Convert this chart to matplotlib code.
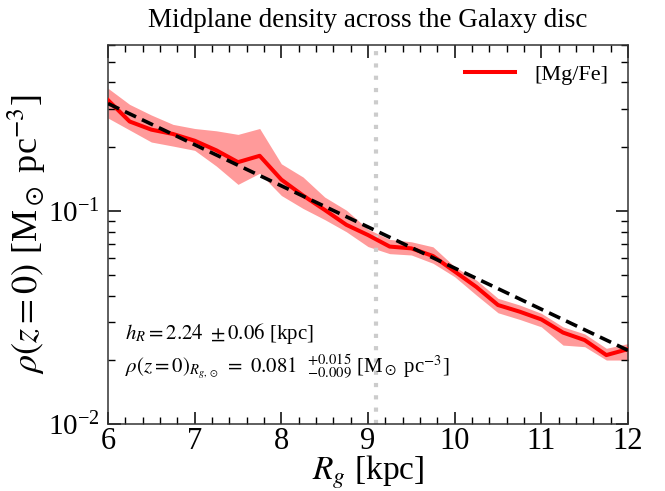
import numpy as np
import matplotlib
matplotlib.use("Agg")
import matplotlib.pyplot as plt
from matplotlib.ticker import LogLocator, MultipleLocator, NullFormatter

plt.rcParams['font.family'] = ['Liberation Serif', 'DejaVu Serif']
plt.rcParams['mathtext.fontset'] = 'stix'

# ---- data ----
R_g = [6.0, 6.25, 6.5, 6.75, 7.0, 7.25, 7.5, 7.75, 8.0, 8.25, 8.5, 8.75, 9.0,
       9.25, 9.5, 9.75, 10.0, 10.25, 10.5, 10.75, 11.0, 11.25, 11.5, 11.75, 12.0]
rho_mgfe = [0.330, 0.262, 0.240, 0.229, 0.213, 0.192, 0.169, 0.181, 0.140, 0.118,
            0.101, 0.086, 0.077, 0.068, 0.0667, 0.0614, 0.052, 0.044, 0.0362,
            0.0337, 0.031, 0.0269, 0.0248, 0.0211, 0.0225]
rho_upper = [0.375, 0.315, 0.281, 0.254, 0.243, 0.237, 0.228, 0.243, 0.166, 0.144,
             0.116, 0.1007, 0.082, 0.0735, 0.0716, 0.0678, 0.0547, 0.0474, 0.0389,
             0.0362, 0.0331, 0.0286, 0.0265, 0.0227, 0.0239]
rho_lower = [0.272, 0.239, 0.210, 0.201, 0.192, 0.162, 0.133, 0.150, 0.118, 0.1026,
             0.091, 0.0798, 0.068, 0.063, 0.0621, 0.0568, 0.0491, 0.0403, 0.0333,
             0.031, 0.0286, 0.0235, 0.0231, 0.0200, 0.0200]
fit_R = [6.0, 12.0]
fit_rho = [0.318, 0.0222]
R_sun_g = 9.09

fig = plt.figure(figsize=(6.65, 4.91), dpi=100)
ax = fig.add_axes([0.1624, 0.1358, 0.7820, 0.7732])

ax.fill_between(R_g, rho_lower, rho_upper, color='#ff9a9a', lw=0, zorder=1)
ax.plot(R_g, rho_mgfe, color='red', lw=2.9, label='[Mg/Fe]', zorder=3)
ax.plot(fit_R, fit_rho, color='black', lw=2.6, ls=(0, (3.4, 1.8)), zorder=4)
ax.axvline(R_sun_g, color='#cccccc', lw=3, ls=(0, (1, 1.95)), zorder=2)

ax.set_yscale('log')
ax.set_xlim(6, 12)
ax.set_ylim(1e-2, 0.6)
ax.xaxis.set_major_locator(MultipleLocator(1))
ax.xaxis.set_minor_locator(MultipleLocator(0.2))
ax.yaxis.set_major_locator(LogLocator(base=10))
ax.yaxis.set_minor_locator(LogLocator(base=10, subs=np.arange(2, 10)))
ax.yaxis.set_minor_formatter(NullFormatter())

ax.tick_params(which='both', direction='in', top=True, right=True)
ax.tick_params(which='major', length=9, width=1.1)
ax.tick_params(which='minor', length=5, width=1.0)
ax.tick_params(axis='x', which='major', pad=2, labelsize=22)
ax.tick_params(axis='y', which='major', pad=6, labelsize=21)
for s in ax.spines.values():
    s.set_linewidth(1.1)
    s.set_color('#333333')

ax.set_xlabel(r'$R_g$ [kpc]', fontsize=24, labelpad=-2)
ax.set_ylabel(r'$\rho(z=0)$ [M$_\odot$ pc$^{-3}$]', fontsize=26, labelpad=0)
ax.set_title('Midplane density across the Galaxy disc', fontsize=19.5, pad=13)

ax.text(0.032, 0.240, r'$h_R = 2.24\ \pm 0.06$ [kpc]', transform=ax.transAxes,
        fontsize=15, va='center', ha='left')
ax.text(0.032, 0.151,
        r'$\rho(z=0)_{R_{g,\odot}}\ =\ 0.081\ \ ^{+0.015}_{-0.009}$ [M$_\odot$ pc$^{-3}$]',
        transform=ax.transAxes, fontsize=15, va='center', ha='left')

leg = ax.legend(loc='upper right', frameon=False, fontsize=16, handlelength=2.25,
                handletextpad=0.85, borderaxespad=0.5)

fig.savefig('out.png', dpi=100)
